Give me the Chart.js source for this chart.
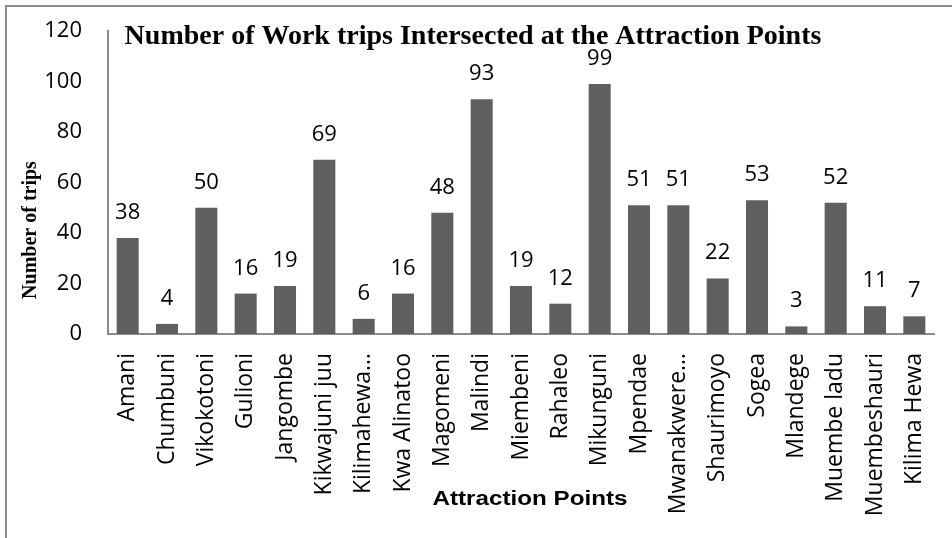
<!DOCTYPE html>
<html>
<head>
<meta charset="utf-8">
<script src="https://cdn.jsdelivr.net/npm/chart.js@4/dist/chart.umd.min.js"></script>
<style>
html,body{margin:0;padding:0;background:#fff;}
#wrap{width:952px;height:538px;position:relative;}
</style>
</head>
<body>
<div id="wrap"><canvas id="c" width="952" height="538"></canvas></div>
<script>
const categories = ["Amani","Chumbuni","Vikokotoni","Gulioni","Jangombe","Kikwajuni juu","Kilimahewa\u2026","Kwa Alinatoo","Magomeni","Malindi","Miembeni","Rahaleo","Mikunguni","Mpendae","Mwanakwere\u2026","Shaurimoyo","Sogea","Mlandege","Muembe ladu","Muembeshauri","Kilima Hewa"];
const trips = [38,4,50,16,19,69,6,16,48,93,19,12,99,51,51,22,53,3,52,11,7];
const yTicks = [0,20,40,60,80,100,120];
const chartTitle = "Number of Work trips Intersected at the Attraction Points";
const yTitle = "Number of trips";
const xTitle = "Attraction Points";

const decor = {
  id: 'decor',
  afterDatasetsDraw(chart) {
    const ctx = chart.ctx;
    const meta = chart.getDatasetMeta(0);
    ctx.save();
    ctx.fillStyle = '#000';
    ctx.font = '22px "Open Sans"';
    ctx.textAlign = 'center';
    ctx.textBaseline = 'alphabetic';
    meta.data.forEach((bar, i) => {
      ctx.fillText(String(trips[i]), bar.x, bar.y - 19);
    });
    ctx.restore();
  },
  afterDraw(chart) {
    const ctx = chart.ctx;
    ctx.save();
    // outer border
    ctx.fillStyle = '#8c8c8c';
    ctx.fillRect(5, 5, 2, 533);
    ctx.fillRect(5, 5, 947, 2);
    // title
    ctx.fillStyle = '#000';
    ctx.font = 'bold 28px "Liberation Serif"';
    ctx.textAlign = 'center';
    ctx.textBaseline = 'alphabetic';
    ctx.fillText(chartTitle, 473, 44);
    // x title (horizontally stretched like the reference)
    ctx.save();
    ctx.font = 'bold 20px "Liberation Sans"';
    const w = ctx.measureText(xTitle).width;
    const sx = 195 / w;
    ctx.translate(530, 505);
    ctx.scale(sx, 1);
    ctx.fillText(xTitle, 0, 0);
    ctx.restore();
    // y title
    ctx.translate(31, 230);
    ctx.rotate(-Math.PI/2);
    ctx.font = 'bold 20px "Liberation Serif"';
    ctx.textBaseline = 'middle';
    ctx.fillText(yTitle, 0, 0);
    ctx.restore();
  }
};

new Chart(document.getElementById('c'), {
  type: 'bar',
  data: {
    labels: categories,
    datasets: [{
      data: trips,
      backgroundColor: '#5f5f5f',
      borderWidth: 0,
      barPercentage: 0.56,
      categoryPercentage: 1.0
    }]
  },
  options: {
    responsive: false,
    animation: false,
    devicePixelRatio: 1,
    layout: { padding: { top: 31, right: 18, left: 0, bottom: 0 } },
    plugins: { legend: { display: false }, tooltip: { enabled: false }, title: { display: false } },
    scales: {
      x: {
        grid: { display: false, drawTicks: false },
        border: { display: true, color: '#8a8a8a', width: 2 },
        ticks: {
          autoSkip: false, minRotation: 90, maxRotation: 90, padding: 19,
          color: '#000', font: { family: '"Open Sans"', size: 23 }
        },
        afterFit(s) { s.height = 204; s.paddingLeft = 0; s.paddingRight = 0; }
      },
      y: {
        min: 0, max: 120,
        grid: { display: false, drawTicks: false },
        border: { display: true, color: '#8a8a8a', width: 2 },
        afterBuildTicks(s) { s.ticks = yTicks.map(v => ({ value: v })); },
        ticks: {
          padding: 26, color: '#000', font: { family: '"Open Sans"', size: 22 }
        },
        afterFit(s) { s.width = 108; s.paddingTop = 0; s.paddingBottom = 0; }
      }
    }
  },
  plugins: [decor]
});
</script>
</body>
</html>
